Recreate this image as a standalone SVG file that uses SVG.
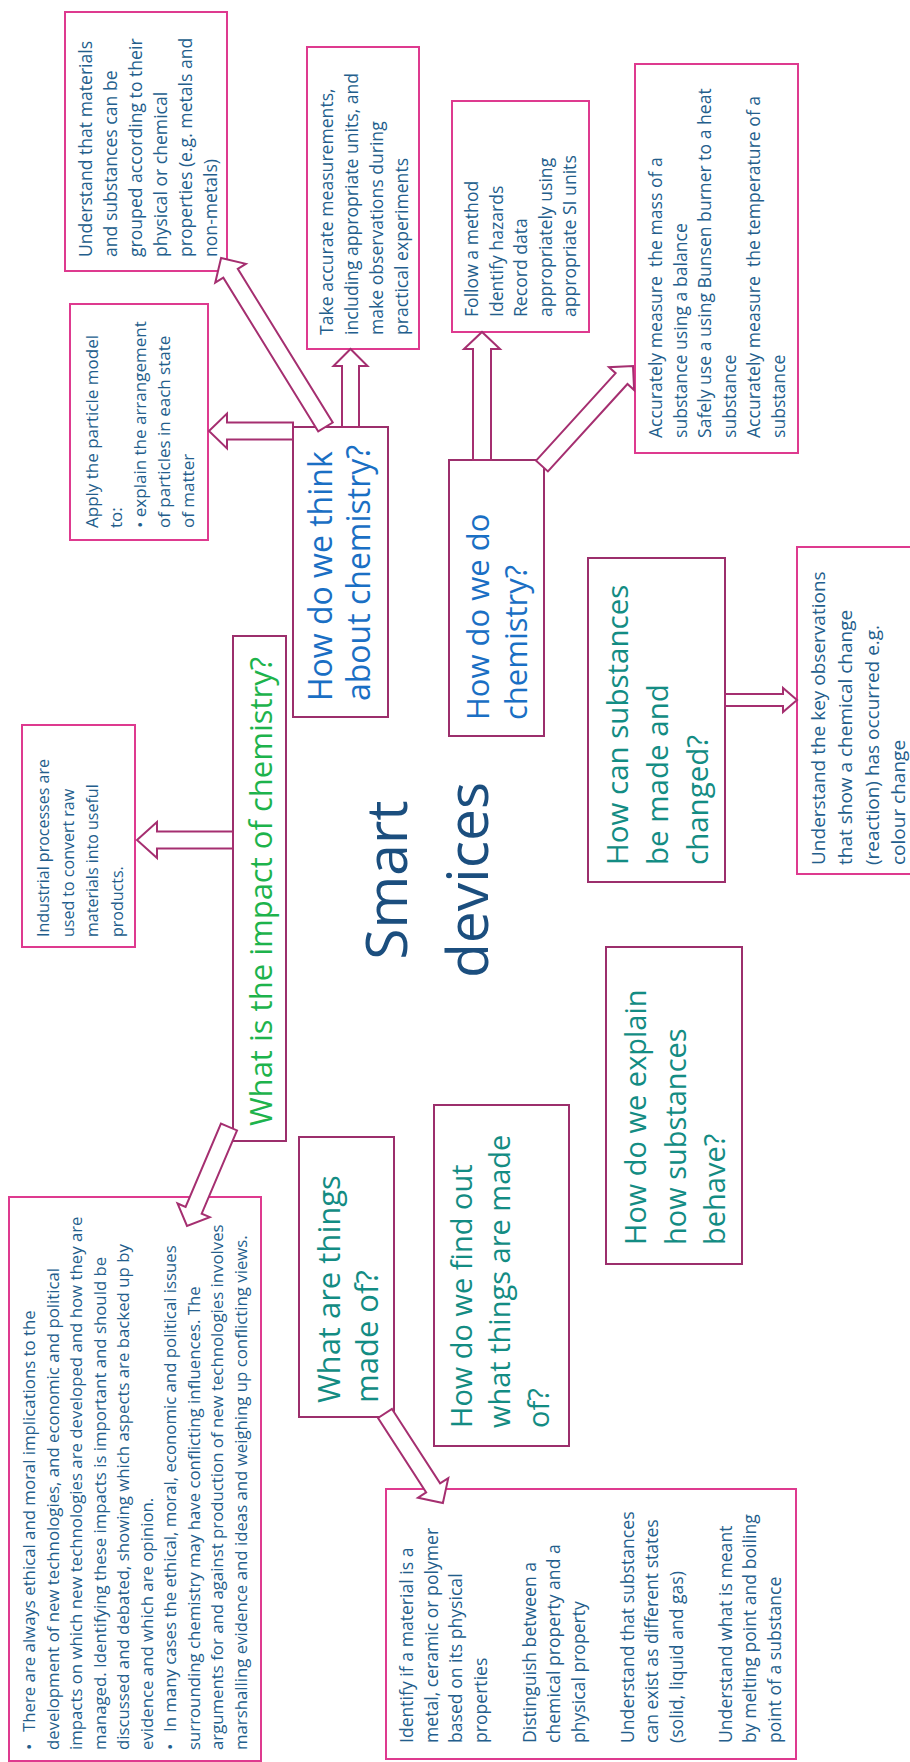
<svg xmlns="http://www.w3.org/2000/svg" width="910" height="1762" viewBox="0 0 910 1762">
<style>
text { font-family: "Open Sans", "Noto Sans", "Liberation Sans", sans-serif; }
.cbox { fill: #ffffff; stroke: #de3a8f; stroke-width: 2; }
.qbox { fill: #ffffff; stroke: #9c2f6c; stroke-width: 2; }
.ct { font-size: 17.6px; fill: #235e8c; }
.qb { fill: #1a6fc4; }
.qg { fill: #1db34c; }
.qt { fill: #138c83; }
.arrow { fill: #ffffff; stroke: #a52f70; stroke-width: 2; stroke-linejoin: miter; }
.title { font-size: 57px; fill: #1b4e7e; text-anchor: middle; }
</style>
<rect width="910" height="1762" fill="#ffffff"/>

<g id="node-materials">
<rect class="cbox" x="65" y="12" width="162" height="259"/>
<g transform="translate(65,271) rotate(-90)">
<text class="ct" x="14" y="27">Understand that materials</text>
<text class="ct" x="14" y="52">and substances can be</text>
<text class="ct" x="14" y="77">grouped according to their</text>
<text class="ct" x="14" y="102">physical or chemical</text>
<text class="ct" x="14" y="127">properties (e.g. metals and</text>
<text class="ct" x="14" y="152">non-metals)</text>
</g>
</g>

<g id="node-measurements">
<rect class="cbox" x="307" y="47" width="112" height="302"/>
<g transform="translate(307,349) rotate(-90)">
<text class="ct" x="14" y="26">Take accurate measurements,</text>
<text class="ct" x="14" y="51">including appropriate units, and</text>
<text class="ct" x="14" y="76">make observations during</text>
<text class="ct" x="14" y="101">practical experiments</text>
</g>
</g>

<g id="node-particle">
<rect class="cbox" x="70" y="304" width="138" height="236"/>
<g transform="translate(70,540) rotate(-90)">
<text class="ct" x="12" y="28" style="font-size:17px">Apply the particle model</text>
<text class="ct" x="12" y="52" style="font-size:17px">to:</text>
<text class="ct" x="12" y="76" style="font-size:17px">• explain the arrangement</text>
<text class="ct" x="12" y="100" style="font-size:17px">of particles in each state</text>
<text class="ct" x="12" y="124" style="font-size:17px">of matter</text>
</g>
</g>

<g id="node-think">
<rect class="qbox" x="293" y="427" width="95" height="290"/>
<g transform="translate(293,717) rotate(-90)">
<text class="qb" x="16" y="39" style="font-size:32px">How do we think</text>
<text class="qb" x="16" y="77" style="font-size:32px">about chemistry?</text>
</g>
</g>

<g id="node-method">
<rect class="cbox" x="452" y="101" width="137" height="231"/>
<g transform="translate(452,332) rotate(-90)">
<text class="ct" x="15" y="26">Follow a method</text>
<text class="ct" x="15" y="50.5">Identify hazards</text>
<text class="ct" x="15" y="75">Record data</text>
<text class="ct" x="15" y="99.5">appropriately using</text>
<text class="ct" x="15" y="124">appropriate SI units</text>
</g>
</g>

<g id="node-accurately">
<rect class="cbox" x="635" y="64" width="163" height="389"/>
<g transform="translate(635,453) rotate(-90)">
<text class="ct" x="15" y="27" style="white-space:pre">Accurately measure  the mass of a</text>
<text class="ct" x="15" y="51.6">substance using a balance</text>
<text class="ct" x="15" y="76.2">Safely use a using Bunsen burner to a heat</text>
<text class="ct" x="15" y="100.8">substance</text>
<text class="ct" x="15" y="125.4" style="white-space:pre">Accurately measure  the temperature of a</text>
<text class="ct" x="15" y="150">substance</text>
</g>
</g>

<g id="node-do">
<rect class="qbox" x="449" y="460" width="95" height="276"/>
<g transform="translate(449,736) rotate(-90)">
<text class="qb" x="16" y="40" style="font-size:31px">How do we do</text>
<text class="qb" x="16" y="78" style="font-size:31px">chemistry?</text>
</g>
</g>

<g id="node-substances">
<rect class="qbox" x="588" y="558" width="137" height="324"/>
<g transform="translate(588,882) rotate(-90)">
<text class="qt" x="17" y="40" style="font-size:29.5px">How can substances</text>
<text class="qt" x="17" y="80" style="font-size:29.5px">be made and</text>
<text class="qt" x="17" y="120" style="font-size:29.5px">changed?</text>
</g>
</g>

<g id="node-observations">
<rect class="cbox" x="797" y="547" width="116" height="327"/>
<g transform="translate(797,874) rotate(-90)">
<text class="ct" x="9" y="28" style="font-size:19px">Understand the key observations</text>
<text class="ct" x="9" y="55" style="font-size:19px">that show a chemical change</text>
<text class="ct" x="9" y="82" style="font-size:19px">(reaction) has occurred e.g.</text>
<text class="ct" x="9" y="108" style="font-size:19px">colour change</text>
</g>
</g>

<g id="node-industrial">
<rect class="cbox" x="22" y="725" width="113" height="222"/>
<g transform="translate(22,947) rotate(-90)">
<text class="ct" x="10" y="27" style="font-size:16px">Industrial processes are</text>
<text class="ct" x="10" y="51.7" style="font-size:16px">used to convert raw</text>
<text class="ct" x="10" y="76.4" style="font-size:16px">materials into useful</text>
<text class="ct" x="10" y="101" style="font-size:16px">products.</text>
</g>
</g>

<g id="node-impact">
<rect class="qbox" x="233" y="636" width="53" height="505"/>
<g transform="translate(233,1141) rotate(-90)">
<text class="qg" x="15" y="39" style="font-size:31px">What is the impact of chemistry?</text>
</g>
</g>

<g id="node-title">
<g transform="rotate(-90)">
<text class="title" x="-880" y="407">Smart</text>
<text class="title" x="-880" y="488">devices</text>
</g>
</g>

<g id="node-explain">
<rect class="qbox" x="606" y="947" width="136" height="317"/>
<g transform="translate(606,1264) rotate(-90)">
<text class="qt" x="19" y="40" style="font-size:29px">How do we explain</text>
<text class="qt" x="19" y="80" style="font-size:29px">how substances</text>
<text class="qt" x="19" y="119" style="font-size:29px">behave?</text>
</g>
</g>

<g id="node-ethics">
<rect class="cbox" x="9" y="1197" width="252" height="564"/>
<g transform="translate(9,1761) rotate(-90)">
<text class="ct" x="11" y="26" style="font-size:16.8px">•</text>
<text class="ct" x="29" y="26" style="font-size:16.8px">There are always ethical and moral implications to the</text>
<text class="ct" x="11" y="49.5" style="font-size:16.8px">development of new technologies, and economic and political</text>
<text class="ct" x="11" y="73" style="font-size:16.8px">impacts on which new technologies are developed and how they are</text>
<text class="ct" x="11" y="96.5" style="font-size:16.8px">managed. Identifying these impacts is important and should be</text>
<text class="ct" x="11" y="120" style="font-size:16.8px">discussed and debated, showing which aspects are backed up by</text>
<text class="ct" x="11" y="143.5" style="font-size:16.8px">evidence and which are opinion.</text>
<text class="ct" x="11" y="167" style="font-size:16.8px">•</text>
<text class="ct" x="29" y="167" style="font-size:16.8px">In many cases the ethical, moral, economic and political issues</text>
<text class="ct" x="11" y="190.5" style="font-size:16.8px">surrounding chemistry may have conflicting influences. The</text>
<text class="ct" x="11" y="214" style="font-size:16.8px">arguments for and against production of new technologies involves</text>
<text class="ct" x="11" y="237.5" style="font-size:16.8px">marshalling evidence and ideas and weighing up conflicting views.</text>
</g>
</g>

<g id="node-whatare">
<rect class="qbox" x="299" y="1137" width="95" height="280"/>
<g transform="translate(299,1417) rotate(-90)">
<text class="qt" x="14" y="41" style="font-size:31px">What are things</text>
<text class="qt" x="14" y="79" style="font-size:31px">made of?</text>
</g>
</g>

<g id="node-findout">
<rect class="qbox" x="434" y="1105" width="135" height="341"/>
<g transform="translate(434,1446) rotate(-90)">
<text class="qt" x="18" y="38" style="font-size:29px">How do we find out</text>
<text class="qt" x="18" y="76" style="font-size:29px">what things are made</text>
<text class="qt" x="18" y="115" style="font-size:29px">of?</text>
</g>
</g>

<g id="node-identify">
<rect class="cbox" x="386" y="1489" width="410" height="270"/>
<g transform="translate(386,1759) rotate(-90)">
<text class="ct" x="16" y="27">Identify if a material is a</text>
<text class="ct" x="16" y="51.5">metal, ceramic or polymer</text>
<text class="ct" x="16" y="76">based on its physical</text>
<text class="ct" x="16" y="100.5">properties</text>
<text class="ct" x="16" y="149.5">Distinguish between a</text>
<text class="ct" x="16" y="174">chemical property and a</text>
<text class="ct" x="16" y="198.5">physical property</text>
<text class="ct" x="16" y="247.5">Understand that substances</text>
<text class="ct" x="16" y="272">can exist as different states</text>
<text class="ct" x="16" y="296.5">(solid, liquid and gas)</text>
<text class="ct" x="16" y="345.5">Understand what is meant</text>
<text class="ct" x="16" y="370">by melting point and boiling</text>
<text class="ct" x="16" y="394.5">point of a substance</text>
</g>
</g>

<g id="connectors">
<path class="arrow" transform="translate(325.5,427) rotate(-121.7)" d="M0,-8.5 L180.7,-8.5 L180.7,-18 L198.7,0 L180.7,18 L180.7,8.5 L0,8.5 Z"/>
<path class="arrow" transform="translate(350.5,427) rotate(-90)" d="M0,-8.5 L61,-8.5 L61,-17 L78,0 L61,17 L61,8.5 L0,8.5 Z"/>
<path class="arrow" transform="translate(293,431) rotate(180)" d="M0,-8.5 L66,-8.5 L66,-17.5 L84,0 L66,17.5 L66,8.5 L0,8.5 Z"/>
<path class="arrow" transform="translate(482,460) rotate(-90)" d="M0,-9 L111,-9 L111,-18 L128,0 L111,18 L111,9 L0,9 Z"/>
<path class="arrow" transform="translate(542,466) rotate(-47.7)" d="M0,-8 L118.2,-8 L118.2,-17 L135.2,0 L118.2,17 L118.2,8 L0,8 Z"/>
<path class="arrow" transform="translate(725,700)" d="M0,-6 L58,-6 L58,-12 L72,0 L58,12 L58,6 L0,6 Z"/>
<path class="arrow" transform="translate(233,840) rotate(180)" d="M0,-8.5 L76,-8.5 L76,-18 L96,0 L76,18 L76,8.5 L0,8.5 Z"/>
<path class="arrow" transform="translate(229,1127) rotate(113)" d="M0,-8.75 L90.5,-8.75 L90.5,-17.5 L107.5,0 L90.5,17.5 L90.5,8.75 L0,8.75 Z"/>
<path class="arrow" transform="translate(385,1413.5) rotate(57.1)" d="M0,-8.3 L88.6,-8.3 L88.6,-18 L106.6,0 L88.6,18 L88.6,8.3 L0,8.3 Z"/>
</g>
</svg>
